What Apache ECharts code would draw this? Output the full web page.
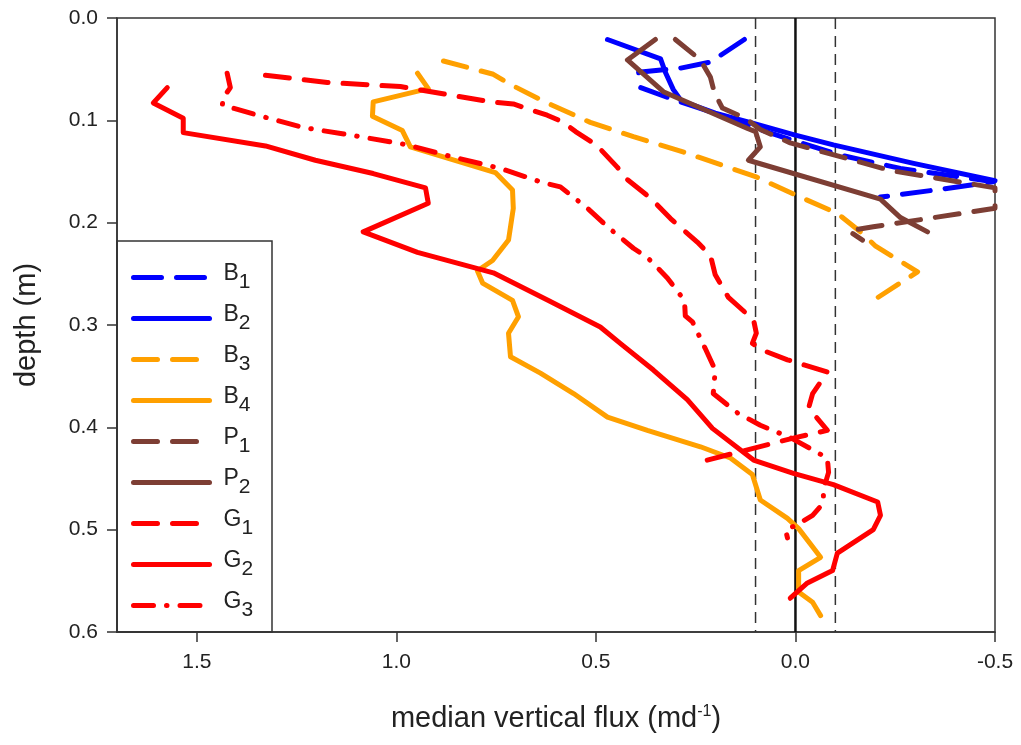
<!DOCTYPE html>
<html>
<head>
<meta charset="utf-8">
<script src="https://cdn.jsdelivr.net/npm/echarts@6/dist/echarts.min.js"></script>
<style>
  html, body { margin: 0; padding: 0; background: #fff; }
  #chart { width: 1021px; height: 745px; }
</style>
</head>
<body>
<div id="chart"></div>
<script>
// Median vertical flux profiles: each point is [flux (m/d), depth (m)]
const B1 = [[0.128,0.021],[0.213,0.043],[0.288,0.049],[0.393,0.053],[0.388,0.068],[0.318,0.078],
  [0.188,0.095],[0.088,0.109],[-0.013,0.122],[-0.113,0.134],[-0.263,0.147],[-0.496,0.160],
  [-0.371,0.167],[-0.213,0.175]];
const B2 = [[0.471,0.021],[0.338,0.040],[0.326,0.053],[0.306,0.070],[0.286,0.081],[0.201,0.093],
  [0.105,0.103],[0.005,0.114],[-0.095,0.124],[-0.296,0.142],[-0.500,0.159]];
const B3 = [[0.882,0.042],[0.757,0.055],[0.714,0.065],[0.622,0.083],[0.514,0.102],[0.406,0.116],
  [0.288,0.130],[0.100,0.155],[0.005,0.172],[-0.105,0.191],[-0.163,0.209],[-0.201,0.223],
  [-0.306,0.248],[-0.195,0.276]];
const B4 = [[0.947,0.054],[0.920,0.069],[1.058,0.082],[1.060,0.096],[0.985,0.110],[0.965,0.126],
  [0.752,0.151],[0.709,0.168],[0.707,0.186],[0.719,0.217],[0.759,0.237],[0.797,0.247],
  [0.784,0.259],[0.709,0.276],[0.694,0.292],[0.719,0.308],[0.714,0.331],[0.639,0.347],
  [0.556,0.367],[0.471,0.390],[0.371,0.403],[0.238,0.419],[0.163,0.430],[0.108,0.446],
  [0.088,0.471],[0.020,0.489],[-0.008,0.499],[-0.063,0.527],[-0.008,0.540],[-0.008,0.561],
  [-0.043,0.571],[-0.063,0.584]];
const P1 = [[0.301,0.021],[0.238,0.041],[0.213,0.058],[0.203,0.073],[0.183,0.088],[0.125,0.098],
  [0.088,0.109],[0.013,0.122],[-0.238,0.149],[-0.500,0.166],[-0.500,0.186],[-0.195,0.204],
  [-0.133,0.208],[-0.168,0.217]];
const P2 = [[0.351,0.021],[0.421,0.041],[0.331,0.072],[0.120,0.108],[0.100,0.111],[0.088,0.126],
  [0.118,0.139],[-0.213,0.177],[-0.263,0.195],[-0.331,0.209]];
const G1 = [[1.328,0.056],[1.173,0.063],[0.990,0.067],[0.764,0.082],[0.707,0.084],[0.622,0.095],
  [0.581,0.102],[0.551,0.111],[0.499,0.124],[0.446,0.146],[0.421,0.158],[0.363,0.176],
  [0.313,0.196],[0.246,0.219],[0.213,0.232],[0.201,0.251],[0.168,0.273],[0.105,0.295],
  [0.098,0.308],[0.108,0.318],[0.080,0.325],[0.020,0.334],[-0.080,0.346],[-0.043,0.367],
  [-0.033,0.381],[-0.080,0.403],[0.000,0.410],[0.221,0.432]];
const G2 = [[1.574,0.068],[1.609,0.083],[1.534,0.098],[1.534,0.112],[1.328,0.125],[1.203,0.139],
  [1.058,0.152],[0.927,0.166],[0.920,0.181],[1.083,0.209],[0.947,0.229],[0.757,0.249],
  [0.619,0.276],[0.489,0.302],[0.439,0.318],[0.356,0.344],[0.271,0.373],[0.208,0.401],
  [0.105,0.432],[0.005,0.445],[-0.095,0.456],[-0.206,0.473],[-0.213,0.486],[-0.195,0.500],
  [-0.105,0.523],[-0.093,0.540],[-0.030,0.552],[0.013,0.567]];
const G3 = [[1.424,0.054],[1.416,0.068],[1.434,0.078],[1.436,0.085],[1.348,0.095],[1.233,0.107],
  [1.090,0.116],[0.972,0.124],[0.857,0.136],[0.739,0.147],[0.632,0.161],[0.589,0.165],
  [0.521,0.186],[0.471,0.204],[0.406,0.225],[0.371,0.234],[0.321,0.254],[0.278,0.276],
  [0.276,0.291],[0.258,0.297],[0.226,0.323],[0.201,0.344],[0.206,0.367],[0.145,0.386],
  [0.088,0.398],[0.013,0.410],[-0.080,0.430],[-0.083,0.444],[-0.070,0.461],[-0.070,0.474],
  [-0.043,0.486],[0.000,0.496],[0.025,0.500],[0.020,0.508]];

// Reference fluxes: zero flux and the +/-0.1 m/d band
const ZERO_LINE = [[0, 0], [0, 0.6]];
const BAND_LO = [[0.1, 0], [0.1, 0.6]];
const BAND_HI = [[-0.1, 0], [-0.1, 0.6]];

const SERIES_NAMES = ['B1', 'B2', 'B3', 'B4', 'P1', 'P2', 'G1', 'G2', 'G3'];
const SERIES_DATA = { B1, B2, B3, B4, P1, P2, G1, G2, G3 };

const FLUX_MIN = -0.5, FLUX_MAX = 1.7, FLUX_STEP = 0.5;
const DEPTH_MIN = 0, DEPTH_MAX = 0.6, DEPTH_STEP = 0.1;

const BLUE = '#0000ff', ORANGE = '#ffa000', BROWN = '#7d3e34', RED = '#ff0000';
const DASH = [24, 15];
const DASH_DOT = [20, 13, 0.5, 13];
const LOOK = {
  B1: { color: BLUE, type: [28, 15] },
  B2: { color: BLUE, type: 'solid' },
  B3: { color: ORANGE, type: DASH },
  B4: { color: ORANGE, type: 'solid' },
  P1: { color: BROWN, type: DASH },
  P2: { color: BROWN, type: 'solid' },
  G1: { color: RED, type: DASH },
  G2: { color: RED, type: 'solid' },
  G3: { color: RED, type: DASH_DOT }
};
const LINE_W = 5;

const FONT = 'Liberation Sans, Arial, sans-serif';
const INK = '#222';

const dataSeries = SERIES_NAMES.map(name => ({
  name,
  type: 'line',
  data: SERIES_DATA[name],
  symbol: 'none',
  clip: true,
  z: 3,
  lineStyle: {
    color: LOOK[name].color,
    width: LINE_W,
    type: LOOK[name].type,
    cap: 'round',
    join: 'round'
  },
  itemStyle: { color: LOOK[name].color }
}));

const refSeries = [
  { name: 'zero', data: ZERO_LINE, lineStyle: { color: '#111', width: 2.5, type: 'solid' } },
  { name: 'band+', data: BAND_LO, lineStyle: { color: '#333', width: 1.5, type: [11, 7] } },
  { name: 'band-', data: BAND_HI, lineStyle: { color: '#333', width: 1.5, type: [11, 7] } }
].map(s => Object.assign({ type: 'line', symbol: 'none', silent: true, z: 2 }, s));

const chart = echarts.init(document.getElementById('chart'), null, { renderer: 'canvas' });
chart.setOption({
  animation: false,
  backgroundColor: '#fff',
  textStyle: { fontFamily: FONT, color: INK },
  grid: {
    left: 117, right: 26, top: 18, bottom: 113,
    show: true, borderColor: '#333', borderWidth: 1.5, backgroundColor: 'transparent'
  },
  xAxis: {
    type: 'value',
    inverse: true,
    min: FLUX_MIN, max: FLUX_MAX, interval: FLUX_STEP,
    splitLine: { show: false },
    axisLine: { show: true, onZero: false, lineStyle: { color: '#333', width: 1.5 } },
    axisTick: { show: true, inside: false, length: 10, lineStyle: { color: '#333', width: 1.5 } },
    axisLabel: {
      showMaxLabel: false,
      margin: 20,
      fontSize: 21, color: INK, fontFamily: FONT,
      formatter: v => v.toFixed(1)
    },
    name: '{a|median vertical flux (md}{sup|-1}{a|)}',
    nameLocation: 'middle',
    nameGap: 72,
    nameTextStyle: {
      rich: {
        a: { fontSize: 29, fontFamily: FONT, color: INK },
        sup: { fontSize: 16, fontFamily: FONT, color: INK, padding: [0, 0, 14, 0] }
      }
    }
  },
  yAxis: {
    type: 'value',
    inverse: true,
    min: DEPTH_MIN, max: DEPTH_MAX, interval: DEPTH_STEP,
    splitLine: { show: false },
    axisLine: { show: true, onZero: false, lineStyle: { color: '#333', width: 1.5 } },
    axisTick: { show: true, inside: false, length: 10, lineStyle: { color: '#333', width: 1.5 } },
    axisLabel: {
      margin: 19,
      fontSize: 21, color: INK, fontFamily: FONT,
      formatter: v => v.toFixed(1)
    },
    name: 'depth (m)',
    nameLocation: 'middle',
    nameRotate: 90,
    nameGap: 76,
    nameTextStyle: { fontSize: 29, fontFamily: FONT, color: INK }
  },
  legend: {
    data: SERIES_NAMES,
    orient: 'vertical',
    left: 131,
    top: 262,
    padding: 0,
    itemWidth: 76,
    itemHeight: 14,
    itemGap: 10,
    selectedMode: false,
    itemStyle: { opacity: 0 },
    lineStyle: { width: LINE_W, cap: 'round', join: 'round' },
    formatter: name => '{l|' + name.charAt(0) + '}{s|' + name.slice(1) + '}',
    textStyle: {
      padding: [0, 0, 0, 9],
      rich: {
        l: { fontSize: 23, fontFamily: FONT, color: INK, padding: [0, 0, 8, 0] },
        s: { fontSize: 21, fontFamily: FONT, color: INK, padding: [10, 0, 0, 0] }
      }
    }
  },
  graphic: [{
    type: 'rect',
    shape: { x: 117, y: 241, width: 155, height: 391 },
    style: { fill: 'rgba(0,0,0,0)', stroke: '#333', lineWidth: 1.5 },
    z: 1
  }],
  series: refSeries.concat(dataSeries)
});
</script>
</body>
</html>
